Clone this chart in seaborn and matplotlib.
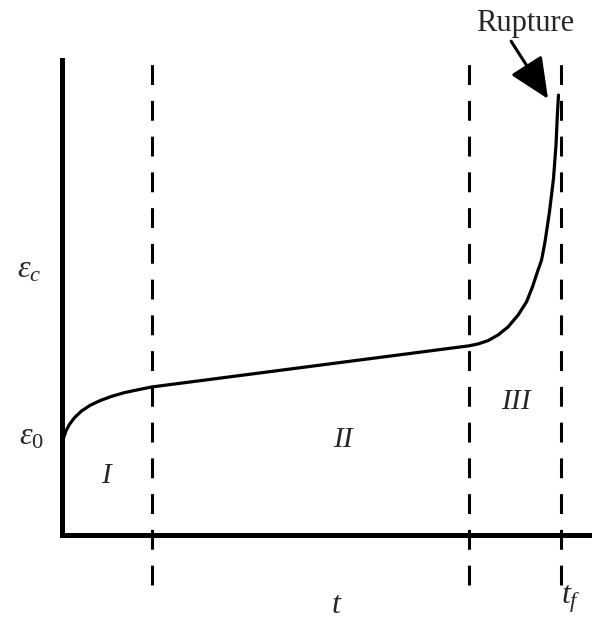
import numpy as np
import pandas as pd
import seaborn as sns
import matplotlib.pyplot as plt

# creep curve: time (t/tf) vs creep strain
t_curve=[0,0.003,0.008,0.015,0.025,0.039,0.056,0.076,0.099,0.125,0.152,0.180,
    0.816,0.834,0.854,0.874,0.894,0.914,0.931,0.943,0.953,0.961,0.968,0.977,0.985,0.990,0.993,0.995]
eps_curve=[0.190,0.205,0.220,0.234,0.248,0.262,0.274,0.284,0.293,0.301,0.307,0.313,
    0.400,0.404,0.411,0.423,0.440,0.465,0.493,0.525,0.557,0.581,0.620,0.684,0.754,0.825,0.895,0.930]
stage_bounds=[0.18,0.816,1.0]
stage_labels=["I","II","III"]
stage_pos=[(0.092,0.125),(0.565,0.201),(0.912,0.281)]

sns.set_theme(style="white")
plt.rcParams["font.family"]=["Liberation Serif","DejaVu Serif"]
plt.rcParams["mathtext.fontset"]="custom"
plt.rcParams["mathtext.it"]="Liberation Serif:italic"
plt.rcParams["mathtext.rm"]="Liberation Serif"

fg=plt.figure(figsize=(5.92,6.2),dpi=100)
ax=fg.add_axes([62/592,85/620,530/592,475/620])

df=pd.DataFrame({"t":t_curve,"eps":eps_curve})
sns.lineplot(data=df,x="t",y="eps",sort=False,color="black",lw=2.3,ax=ax)

#stage boundaries, run past the axes
for b in stage_bounds:
    ax.plot([b,b],[-0.106,1.015],color="black",lw=2.2,
        dashes=(6.5,5.2),clip_on=False)

for lab,(x,y) in zip(stage_labels,stage_pos):
    ax.text(x,y,f"${lab}$",fontsize=21,ha="center",va="center")

ax.text(-0.066,0.560,r"$\varepsilon_c$",fontsize=23,ha="center",va="center")
ax.text(-0.062,0.207,r"$\varepsilon_0$",fontsize=23,ha="center",va="center")
ax.text(0.551,-0.150,r"$t$",fontsize=23,ha="center",va="center")
ax.text(1.020,-0.135,r"$t_f$",fontsize=23,ha="center",va="center")

ax.text(0.928,1.082,"Rupture",fontsize=22,ha="center",va="center",clip_on=False)
ax.annotate("",xy=(0.974,0.922),xytext=(0.900,1.044),annotation_clip=False,
    arrowprops=dict(arrowstyle="-|>,head_length=2.1,head_width=0.95",
        color="black",lw=2.2,shrinkA=0,shrinkB=0))

ax.set_xlim(0,530/499)
ax.set_ylim(0,475/473)
ax.set_xticks([])
ax.set_yticks([])
ax.set_xlabel("")
ax.set_ylabel("")
sns.despine(ax=ax)
for s in ["left","bottom"]:
    ax.spines[s].set_linewidth(3.6)
    ax.spines[s].set_color("black")

fg.savefig("out.png",dpi=100)
